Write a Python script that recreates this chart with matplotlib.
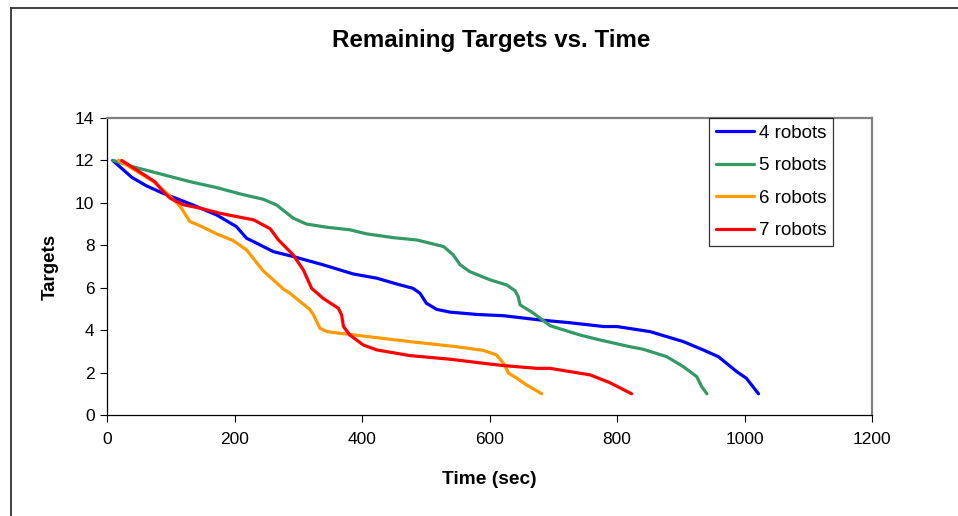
import matplotlib
matplotlib.use("Agg")
import matplotlib.pyplot as plt
from matplotlib.lines import Line2D

plt.rcParams['font.family'] = ['Liberation Sans', 'DejaVu Sans']

# Remaining targets over time for each team size
t4 = [9, 39, 62, 88, 135, 172, 203, 219, 230, 261, 292, 339, 386, 423, 454, 480, 491,
      501, 517, 538, 580, 622, 679, 726, 779, 800, 852, 904, 935, 959, 988, 1003, 1022]
v4 = [12, 11.2, 10.8, 10.45, 9.9, 9.43, 8.88, 8.33, 8.17, 7.7, 7.47, 7.08, 6.65, 6.45,
      6.18, 5.97, 5.74, 5.27, 4.98, 4.85, 4.74, 4.68, 4.48, 4.35, 4.17, 4.17, 3.93, 3.46,
      3.07, 2.75, 2.04, 1.73, 1.0]

t5 = [10, 41, 83, 130, 172, 209, 245, 266, 292, 313, 345, 381, 407, 449, 486, 528, 543,
      554, 569, 601, 627, 640, 645, 648, 669, 695, 742, 773, 820, 841, 878, 904, 925,
      933, 941]
v5 = [12, 11.7, 11.37, 11.0, 10.72, 10.42, 10.17, 9.9, 9.28, 9.0, 8.85, 8.73, 8.54,
      8.36, 8.25, 7.94, 7.55, 7.08, 6.76, 6.37, 6.13, 5.86, 5.58, 5.19, 4.8, 4.21, 3.77,
      3.54, 3.22, 3.1, 2.75, 2.28, 1.81, 1.33, 1.0]

t6 = [18, 41, 73, 94, 115, 130, 146, 172, 198, 219, 245, 277, 287, 318, 324, 334, 345,
      397, 475, 548, 590, 611, 622, 630, 643, 658, 682]
v6 = [12, 11.6, 11.0, 10.45, 9.83, 9.12, 8.92, 8.54, 8.22, 7.78, 6.8, 5.93, 5.74,
      4.98, 4.72, 4.09, 3.93, 3.74, 3.46, 3.22, 3.05, 2.83, 2.44, 1.97, 1.73, 1.42, 1.0]

t7 = [23, 46, 75, 86, 99, 120, 146, 177, 209, 230, 256, 269, 292, 308, 321, 339, 363,
      368, 371, 381, 402, 423, 475, 538, 590, 622, 674, 695, 758, 789, 823]
v7 = [12, 11.56, 11.0, 10.61, 10.22, 9.91, 9.75, 9.51, 9.32, 9.2, 8.78, 8.25, 7.55,
      6.84, 5.97, 5.5, 5.03, 4.72, 4.17, 3.77, 3.3, 3.07, 2.8, 2.63, 2.44, 2.33, 2.2,
      2.2, 1.89, 1.52, 1.0]

series = [
    ("4 robots", t4, v4, "#0000FF"),
    ("5 robots", t5, v5, "#339966"),
    ("6 robots", t6, v6, "#FF9900"),
    ("7 robots", t7, v7, "#FF0000"),
]

x_ticks = [0, 200, 400, 600, 800, 1000, 1200]
y_ticks = [0, 2, 4, 6, 8, 10, 12, 14]

W, H = 958, 516
fig = plt.figure(figsize=(W / 100, H / 100), dpi=100)
fig.patch.set_facecolor("white")

# outer chart frame (left and top edges)
fig.add_artist(Line2D([11 / W, 11 / W], [0, 1 - 8 / H], transform=fig.transFigure,
                      color="#333333", lw=1.3))
fig.add_artist(Line2D([11 / W, 1], [1 - 8 / H, 1 - 8 / H], transform=fig.transFigure,
                      color="#333333", lw=1.3))

ax = fig.add_axes([107 / W, (H - 415) / H, (872 - 107) / W, (415 - 118) / H])

for label, t, v, c in series:
    ax.plot(t, v, color=c, lw=2.3, label=label, solid_joinstyle="round",
            solid_capstyle="round")

ax.set_xlim(0, 1200)
ax.set_ylim(0, 14)
ax.set_xticks(x_ticks)
ax.set_yticks(y_ticks)
ax.tick_params(direction="out", length=5, width=0.8, labelsize=12.5, colors="black",
               pad=4)
ax.tick_params(axis="x", pad=7)

for side in ("left", "bottom"):
    ax.spines[side].set_color("black")
    ax.spines[side].set_linewidth(0.9)
for side in ("top", "right"):
    ax.spines[side].set_color("#808080")
    ax.spines[side].set_linewidth(1.6)

ax.set_xlabel("Time (sec)", fontsize=13.8, fontweight="bold", labelpad=17.5)
ax.set_ylabel("Targets", fontsize=13.5, fontweight="bold", labelpad=12)

fig.text(491 / W, 1 - 40 / H, "Remaining Targets vs. Time", ha="center", va="center",
         fontsize=17.4, fontweight="bold")

leg = ax.legend(loc="upper left", bbox_to_anchor=((709 - 107) / (872 - 107), 1.0),
                frameon=True, fancybox=False, fontsize=13.5, handlelength=2.05,
                handletextpad=0.25, labelspacing=0.82, borderpad=0.35,
                borderaxespad=0)
leg.get_frame().set_edgecolor("black")
leg.get_frame().set_linewidth(0.9)
for h in leg.get_lines():
    h.set_linewidth(2.3)

fig.savefig("out.png", dpi=100, facecolor="white")
